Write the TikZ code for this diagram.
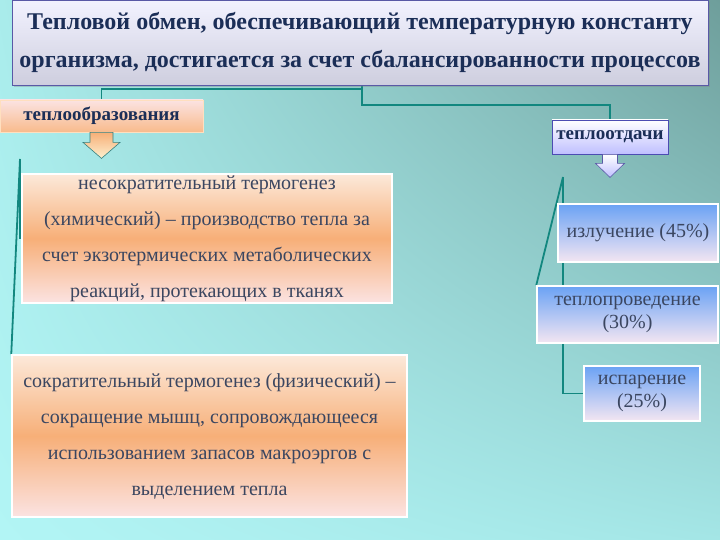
\documentclass[tikz,border=0pt]{standalone}
\usepackage{fontspec}
\setmainfont{Liberation Serif}
\usetikzlibrary{positioning,shadows,shadings,calc}

\definecolor{linkc}{HTML}{12877F}
\definecolor{titletxt}{HTML}{1B2E57}
\definecolor{bodytxt}{HTML}{3B4660}
\definecolor{peachtop}{HTML}{FCE9DA}
\definecolor{peachmid}{HTML}{F7AF78}
\definecolor{peachbot}{HTML}{FBE3E2}
\definecolor{peachtip}{HTML}{FDF0CF}
\definecolor{bluetop}{HTML}{6AA2F4}
\definecolor{bluebot}{HTML}{F4E6F2}
\definecolor{bgul}{HTML}{A9ECEB}
\definecolor{bgur}{HTML}{6E9E9B}
\definecolor{bgll}{HTML}{B2F5F5}
\definecolor{bglr}{HTML}{A4E6E6}

\pgfdeclarelayer{back}
\pgfdeclarelayer{links}
\pgfsetlayers{back,links,main}

\begin{document}
\begin{tikzpicture}[x=1pt, y=1pt,
    link/.style={draw=linkc, line width=1.8pt},
    titlebox/.style={draw=gray!70!blue, line width=0.8pt, top color=white!95!blue, bottom color=blue!20!gray!32,
      drop shadow={shadow xshift=2pt, shadow yshift=-2pt, opacity=0.35},
      inner sep=0pt, align=center, text=titletxt, font=\fontsize{24}{38}\selectfont\bfseries},
    warmhead/.style={draw=orange!25, line width=0.8pt, top color=peachbot, bottom color=peachmid!85,
      inner sep=0pt, text=titletxt, font=\fontsize{19}{20}\selectfont\bfseries},
    coldhead/.style={draw=blue!40!gray, line width=0.8pt, top color=white, bottom color=blue!25!white,
      inner sep=0pt, text=titletxt, font=\fontsize{19}{20}\selectfont\bfseries},
    warmbox/.style={draw=white, line width=1.5pt, top color=peachtop, bottom color=peachbot, middle color=peachmid,
      inner sep=0pt, align=center, text=bodytxt, font=\fontsize{20}{36}\selectfont},
    coldbox/.style={draw=white, line width=1.5pt, top color=bluetop, bottom color=bluebot,
      inner sep=0pt, align=center, text=bodytxt, font=\fontsize{20}{23}\selectfont},
  ]
  \useasboundingbox (0,0) rectangle (720,-540);
  \begin{pgfonlayer}{back}
    \shade[upper left=bgul, upper right=bgur, lower left=bgll, lower right=bglr] (0,0) rectangle (720,-540);
  \end{pgfonlayer}

  % header and the two groups
  \node[titlebox, minimum width=696pt, minimum height=85pt] (title) at (360,-42.5)
    {Тепловой обмен, обеспечивающий температурную константу\\организма, достигается за счет сбалансированности процессов};
  \node[warmhead, minimum width=203pt, minimum height=32pt] (hot) at (101.5,-116) {теплообразования};
  \node[coldhead, minimum width=116pt, minimum height=34pt] (cold) at (610,-137) {теплоотдачи};

  \shade[top color=peachmid, bottom color=peachtip, draw=teal!60!gray, line width=0.6pt]
    (hot.south) ++(-11.5,0) -- ++(0,-10) -- ++(-7,0) -- ++(18.5,-16) -- ++(18.5,16) -- ++(-7,0) -- ++(0,10) -- cycle;
  \shade[top color=white, bottom color=blue!25!white, draw=blue!30!gray, line width=0.6pt]
    (cold.south) ++(-7.5,0) -- ++(0,-9) -- ++(-7,0) -- ++(14.5,-14) -- ++(14.5,14) -- ++(-7,0) -- ++(0,9) -- cycle;

  % heat production
  \node[warmbox, minimum width=370pt, minimum height=129pt] (chem) at (207,-238.5)
    {несократительный термогенез\\(химический) – производство тепла за\\счет экзотермических метаболических\\реакций, протекающих в тканях};
  \node[warmbox, minimum width=395pt, minimum height=162pt] (phys) at (209.5,-436)
    {сократительный термогенез (физический) –\\сокращение мышц, сопровождающееся\\использованием запасов макроэргов с\\выделением тепла};

  % heat loss
  \node[coldbox, minimum width=160pt, minimum height=58pt] (rad) at (638,-233) {излучение (45\%)};
  \node[coldbox, minimum width=181pt, minimum height=57pt] (cond) at (627.5,-314.5) {теплопроведение\\(30\%)};
  \node[coldbox, minimum width=116pt, minimum height=55pt] (evap) at (642,-393.5) {испарение\\(25\%)};

  \coordinate (hub) at (362,-85);
  \coordinate (hotroot) at (20,-159);
  \coordinate (coldroot) at (563,-177);

  \begin{pgfonlayer}{links}
    \draw[link] (hub) -- ++(0,-4) -| (hot.north);
    \draw[link] (hub) -- ++(0,-20) -| (cold.north);
    \draw[link] (hotroot) |- (chem.west);
    \draw[link] (hotroot) -- (phys.north west);
    \draw[link] (coldroot) -- (cond.north west);
    \draw[link] (coldroot) |- (evap.west);
  \end{pgfonlayer}
\end{tikzpicture}
\end{document}
